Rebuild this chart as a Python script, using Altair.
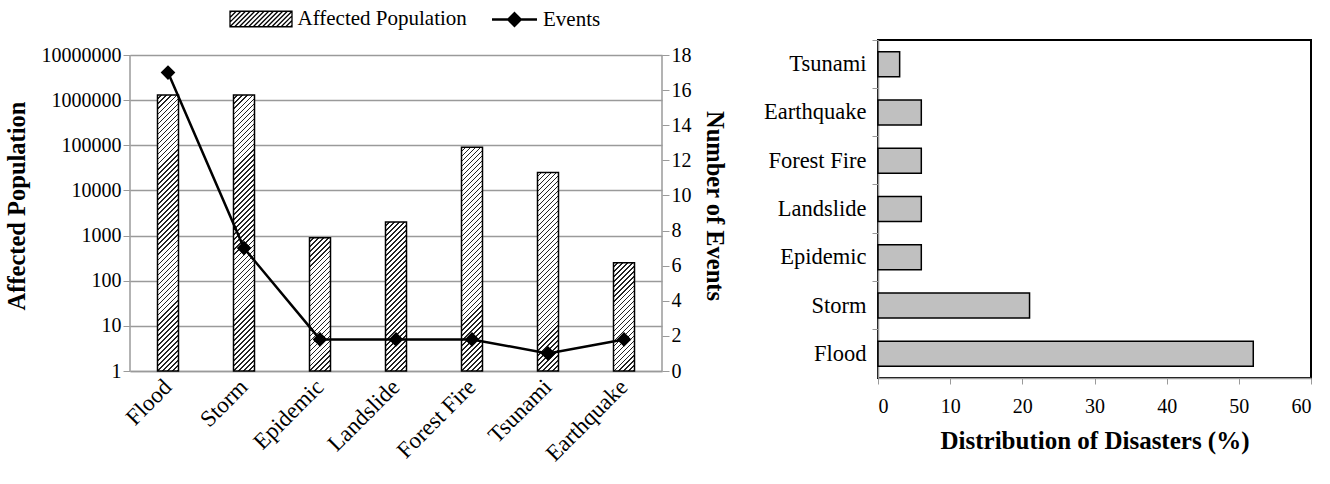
import math
import altair as alt
import pandas as pd

# ---- data ----
categories = ["Flood", "Storm", "Epidemic", "Landslide", "Forest Fire", "Tsunami", "Earthquake"]
affected_population = [1300000, 1300000, 900, 2000, 90000, 25000, 250]
number_of_events = [17, 7, 1.8, 1.8, 1.8, 1, 1.8]

dist_categories = ["Tsunami", "Earthquake", "Forest Fire", "Landslide", "Epidemic", "Storm", "Flood"]
dist_values = [3, 6, 6, 6, 6, 21, 52]

log_ticks = [1, 10, 100, 1000, 10000, 100000, 1000000, 10000000]
event_ticks = [0, 2, 4, 6, 8, 10, 12, 14, 16, 18]
pct_ticks = [0, 10, 20, 30, 40, 50, 60]

FONT = "Liberation Serif"
GRID = "#9a9a9a"

# left panel: plot drawn 316 px tall, with 15 px of headroom above the top gridline
LEFT_W, LEFT_H, HEADROOM = 532, 316, 15
BAR_W = 21
LOG_TOP = 10 ** (7 + 7 * HEADROOM / LEFT_H)
EVT_TOP = 18 * (LEFT_H + HEADROOM) / LEFT_H
HATCH_STEP = 5.0     # px between hatch lines (horizontal distance)
HATCH_INK = 0.32     # fraction of each step that is ink


def hatch_gradient(h, w=BAR_W):
    """Diagonal '////' hatching as a linear gradient in bounding-box units."""
    c = (w + h) / (w * w + h * h)
    n = max(1, int(round((w + h) / HATCH_STEP)))
    stops = []
    for i in range(n):
        a, b = i / n, (i + 1) / n
        m = a + (1 - HATCH_INK) * (b - a)
        stops += [
            {"offset": a, "color": "white"},
            {"offset": m, "color": "white"},
            {"offset": m, "color": "#222222"},
            {"offset": b, "color": "#222222"},
        ]
    return {"gradient": "linear", "x1": 0, "y1": 0, "x2": c * w, "y2": c * h, "stops": stops}


px_per_decade = LEFT_H / 7
fill_conditions = []
for cat, val in zip(categories, affected_population):
    h = math.log10(val) * px_per_decade
    fill_conditions.append({"test": f"datum.Disaster === '{cat}'", "value": hatch_gradient(h)})

# legend swatch: a box with diagonal hatch lines (path in symbol units)
sw_path = "M-2,-0.5H2V0.5H-2Z"
x0 = -2.9
while x0 < 2.0:
    xs, ys, xe, ye = x0, 0.5, x0 + 1.0, -0.5
    if xs < -2:
        ys -= (-2 - xs); xs = -2
    if xe > 2:
        ye += (xe - 2); xe = 2
    if xe > xs:
        sw_path += f" M{xs:.3f},{ys:.3f}L{xe:.3f},{ye:.3f}"
    x0 += 0.3

left_df = pd.DataFrame({
    "Disaster": categories,
    "Affected": affected_population,
    "Events": number_of_events,
    "s1": ["Affected Population"] * len(categories),
    "s2": ["Events"] * len(categories),
})
right_df = pd.DataFrame({"Disaster": dist_categories, "Pct": dist_values})
one_row = pd.DataFrame({"k": [0]})

x_enc = alt.X(
    "Disaster:N", sort=categories, title=None,
    scale=alt.Scale(paddingInner=0, paddingOuter=0),
    axis=alt.Axis(labelAngle=-45, labelFontSize=23, ticks=False, domainColor=GRID,
                  domainWidth=1.5, labelPadding=12, labelBaseline="middle", labelAlign="right",
                  labelColor="black"),
)

AX_LEFT = alt.Axis(values=log_ticks, format="d", grid=True, gridColor=GRID, gridWidth=1.5,
                   domain=False, tickColor=GRID, tickSize=7, labelOverlap=False,
                   labelFontSize=20, titleFontSize=24.5, titlePadding=12)
AX_RIGHT = alt.Axis(orient="right", values=event_ticks, grid=False, domain=False,
                    tickColor=GRID, tickSize=7, labelFontSize=20, labelOverlap=False,
                    tickCount=10, titleFontSize=24.5, titlePadding=10)
SC_LEFT = alt.Scale(type="log", domain=[1, LOG_TOP], nice=False)
SC_RIGHT = alt.Scale(domain=[0, EVT_TOP], nice=False, zero=False)

bars = alt.Chart(left_df).mark_bar(stroke="black", strokeWidth=1.5, size=BAR_W).encode(
    x=x_enc,
    y=alt.Y("Affected:Q", title="Affected Population", scale=SC_LEFT, axis=AX_LEFT),
    y2=alt.datum(1),
    fill={
        "field": "s1", "type": "nominal",
        "scale": {"domain": ["Affected Population"], "range": ["white"]},
        "legend": {"title": None, "orient": "none", "legendX": 114.5, "legendY": -37.5,
                   "symbolType": sw_path, "symbolSize": 961,
                   "symbolStrokeColor": "black", "symbolStrokeWidth": 1.3,
                   "labelOffset": 20, "labelFontSize": 21, "labelFont": FONT,
                   "labelLimit": 500, "padding": 0},
        "condition": fill_conditions,
    },
)

left_axis_line = alt.Chart(one_row).mark_rule(color=GRID, strokeWidth=1.5).encode(
    x=alt.value(0),
    y=alt.YDatum(1, title="Affected Population", scale=SC_LEFT, axis=AX_LEFT),
    y2=alt.datum(10000000),
)

line = alt.Chart(left_df).mark_line(
    strokeWidth=2.5,
    point=alt.OverlayMarkDef(shape="diamond", size=140, filled=True, color="black"),
).encode(
    x=x_enc,
    y=alt.Y("Events:Q", title="Number of Events", scale=SC_RIGHT, axis=AX_RIGHT),
    stroke=alt.Stroke(
        "s2:N", scale=alt.Scale(domain=["Events"], range=["black"]),
        legend=alt.Legend(title=None, orient="none", legendX=372, legendY=-33,
                          symbolType="M-2,0H2M0,-0.55L0.55,0L0,0.55L-0.55,0Z", symbolSize=506,
                          symbolStrokeColor="black", symbolFillColor="black",
                          symbolStrokeWidth=2.5, labelOffset=16, labelFontSize=21,
                          labelFont=FONT, labelLimit=500, padding=0),
    ),
)

right_axis_line = alt.Chart(one_row).mark_rule(color=GRID, strokeWidth=1.5).encode(
    x=alt.value(LEFT_W),
    y=alt.YDatum(0, title="Number of Events", scale=SC_RIGHT, axis=AX_RIGHT),
    y2=alt.datum(18),
)

left = alt.layer(
    alt.layer(bars, left_axis_line),
    alt.layer(line, right_axis_line),
).resolve_scale(y="independent").properties(width=LEFT_W, height=LEFT_H + HEADROOM)

right = alt.Chart(right_df).mark_bar(fill="#c0c0c0", stroke="black", strokeWidth=1.5, size=25).encode(
    y=alt.Y("Disaster:N", sort=dist_categories, title=None,
            scale=alt.Scale(paddingInner=0, paddingOuter=0),
            axis=alt.Axis(bandPosition=0, labelFontSize=22.5, domainColor=GRID, domainWidth=1.5,
                          tickColor=GRID, tickSize=6, labelPadding=6)),
    x=alt.X("Pct:Q", title="Distribution of Disasters (%)",
            scale=alt.Scale(domain=[0, 60], nice=False),
            axis=alt.Axis(values=pct_ticks, grid=False, domainColor=GRID, domainWidth=1.5,
                          tickColor=GRID, tickSize=6, labelFontSize=20, labelPadding=12,
                          titleFontSize=25, titlePadding=12)),
).properties(width=433, height=338, view=alt.ViewBackground(stroke="black", strokeWidth=2))

chart = alt.hconcat(left, right, spacing=36).properties(
    padding={"left": 4, "top": 2, "right": 10, "bottom": 5},
).configure(
    font=FONT,
).configure_axis(
    labelFont=FONT, titleFont=FONT, labelColor="black", titleColor="black",
    titleFontWeight="bold", labelOverlap=False,
).configure_view(stroke=None)

chart.save("out.html", embed_options={"renderer": "svg", "actions": False})
